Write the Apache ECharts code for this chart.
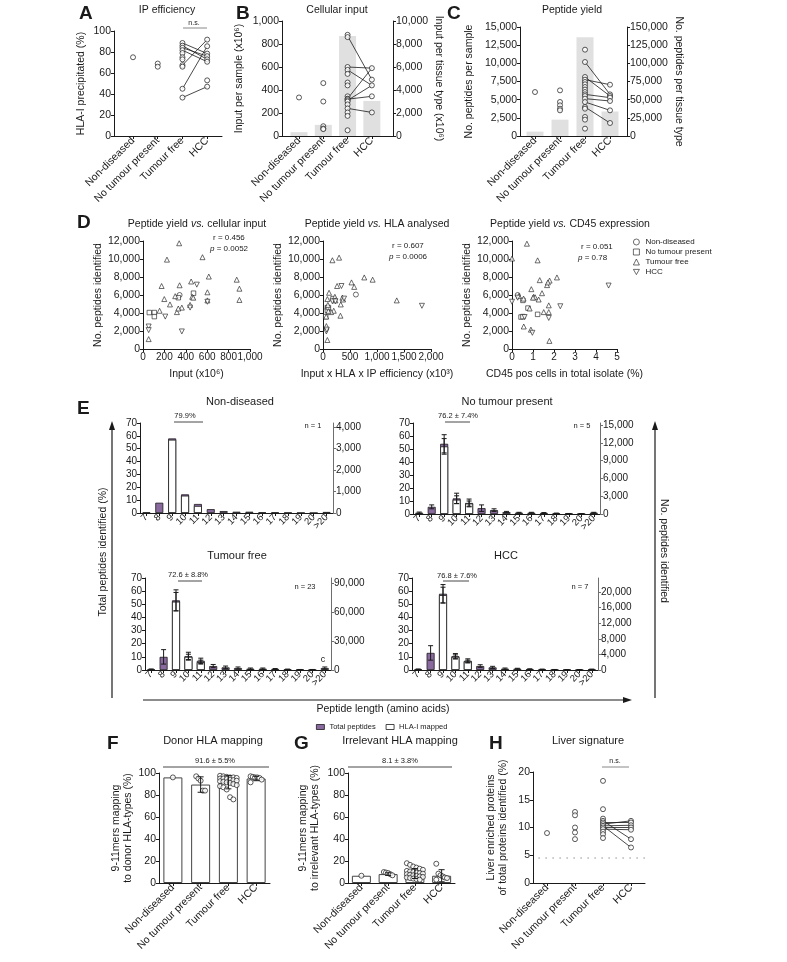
<!DOCTYPE html>
<html>
<head>
<meta charset="utf-8">
<script src="https://cdn.jsdelivr.net/npm/echarts@6/dist/echarts.min.js"></script>
<style>
  html, body { margin: 0; padding: 0; background: #fff; }
  #chart { width: 787px; height: 962px; }
</style>
</head>
<body>
<div id="chart"></div>
<script>
// ---------------- data ----------------
const groups = ['Non-diseased', 'No tumour present', 'Tumour free', 'HCC'];

// A - IP efficiency (%)
const ipND = [75];
const ipNTP = [69, 66];
const ipTF = [88.6, 86, 84, 81.7, 79, 75, 73, 67.5, 66, 45, 36.6];
const ipHCC = [91.8, 85.5, 78.5, 76, 73, 70.7, 53, 47];
const ipPairs = [[36.6, 47], [45, 85.5], [67.5, 91.8], [88.6, 78.5], [86, 73], [84, 76], [81.7, 70.7]];

// B - cellular input (x10^6)
const inputND = [335];
const inputNTP = [460, 300, 85, 65, 60];
const inputTF = [880, 860, 600, 575, 540, 465, 440, 345, 325, 320, 310, 300, 275, 240, 205, 175, 50];
const inputHCC = [590, 490, 440, 345, 205];
const inputTotals = [335, 970, 8700, 3050];
const inputPairs = [[870, 490], [600, 590], [575, 440], [325, 590], [320, 345], [310, 440], [240, 205]];

// C - peptide yield
const yieldND = [6050];
const yieldNTP = [6280, 4680, 4220, 3760, 3530];
const yieldTF = [11880, 10180, 8120, 7750, 7430, 7110, 6740, 6380, 6050, 5730, 5500, 5140, 4680, 3990, 3760, 2620, 2250, 1010];
const yieldHCC = [7060, 5730, 5500, 5280, 4820, 3530, 1790];
const yieldTotals = [6050, 22500, 136000, 33700];
const yieldPairs = [[10180, 5730], [8120, 5500], [7750, 7060], [5730, 5280], [5140, 4820], [4680, 3530], [3990, 1790]];

// D - correlations  [x, peptides]
const d1ND = [[342, 6000]];
const d1NTP = [[59, 4050], [106, 4050], [106, 3600], [472, 6200], [330, 5700]];
const d1TF = [[338, 11750], [224, 9930], [556, 10200], [174, 7000], [342, 7080], [450, 7500], [615, 8050], [876, 7700], [901, 6700], [901, 5450], [602, 6300], [199, 5550], [252, 4950], [301, 5870], [317, 4100], [363, 4600], [155, 4250], [53, 1100], [440, 4900], [460, 5800], [470, 5700], [330, 4500], [602, 5400]];
const d1HCC = [[503, 7150], [363, 1950], [208, 3600], [53, 2500], [53, 2100], [440, 4600], [602, 5250]];

const d2ND = [[609, 6050]];
const d2NTP = [[81, 4600], [81, 4300], [50, 3600], [186, 5600], [100, 4600]];
const d2TF = [[174, 9860], [298, 10150], [261, 7000], [528, 7400], [578, 6900], [764, 7950], [919, 7700], [1366, 5400], [112, 6250], [81, 5550], [360, 5700], [372, 5500], [329, 4950], [323, 3700], [199, 4250], [62, 2550], [81, 1000], [150, 4100], [100, 4200], [220, 5800], [230, 5400], [60, 3600], [90, 4900]];
const d2HCC = [[342, 7000], [1832, 4800], [174, 5300], [62, 1950], [230, 5300], [70, 2150], [390, 5600]];

const d3ND = [[0.27, 6000]];
const d3NTP = [[0.52, 5400], [0.76, 4550], [1.22, 3850], [0.43, 3550], [0.52, 3600]];
const d3TF = [[0.71, 11700], [0, 10050], [1.22, 9850], [1.79, 7600], [2.14, 7950], [1.32, 7650], [1.67, 7100], [1.71, 7400], [0.92, 6650], [1.43, 6200], [1.03, 5800], [1.1, 5750], [1.27, 5500], [1.75, 4850], [0.84, 4500], [1.51, 4100], [1.75, 4100], [0.56, 2500], [0.9, 2150], [1.78, 900], [0.55, 5600], [1.0, 5700], [0.33, 5900]];
const d3HCC = [[0, 5250], [0.27, 5700], [2.30, 4750], [4.6, 7050], [1.75, 3450], [0.97, 1800], [0.6, 3550]];

// E - peptide length distributions (%)
const lengths = ['7', '8', '9', '10', '11', '12', '13', '14', '15', '16', '17', '18', '19', '20', '>20'];
const ndTotal = [0.5, 8, 58, 14.5, 7, 3, 1.5, 1, 1, 0.5, 0.5, 0.3, 0.2, 0.1, 0.8];
const ndMapped = ['-', '-', 57, 13.5, 5.5, '-', '-', '-', '-', '-', '-', '-', '-', '-', '-'];
const ntpTotal = [1, 5.5, 54, 12, 8.5, 4.5, 3, 1.5, 1, 1, 0.8, 0.5, 0.3, 0.2, 1];
const ntpTotalSd = [0.5, 1.5, 7, 4, 3, 2.5, 1, 0.5, 0.3, 0.3, 0.3, 0.2, 0.1, 0.1, 0.3];
const ntpMapped = ['-', '-', 52, 11, 8, '-', '-', '-', '-', '-', '-', '-', '-', '-', '-'];
const ntpMappedSd = [0, 0, 6, 3, 2, 0, 0, 0, 0, 0, 0, 0, 0, 0, 0];
const tfTotal = [0.5, 10, 53, 10.5, 7, 3, 2, 1.5, 1, 1, 0.8, 0.5, 0.3, 0.3, 1.5];
const tfTotalSd = [0.3, 5.5, 8, 3, 2, 1.2, 1, 0.8, 0.5, 0.5, 0.3, 0.2, 0.1, 0.1, 0.8];
const tfMapped = ['-', '-', 52, 10, 6, '-', '-', '-', '-', '-', '-', '-', '-', '-', '-'];
const tfMappedSd = [0, 0, 7, 2, 1.5, 0, 0, 0, 0, 0, 0, 0, 0, 0, 0];
const hccTotal = [0.5, 13, 58, 10.5, 7, 3, 2, 1, 1, 0.7, 0.5, 0.3, 0.2, 0.2, 0.5];
const hccTotalSd = [0.3, 5.5, 7, 2, 1.5, 1, 0.8, 0.5, 0.3, 0.2, 0.2, 0.1, 0.1, 0.1, 0.2];
const hccMapped = ['-', '-', 57, 10, 6.5, '-', '-', '-', '-', '-', '-', '-', '-', '-', '-'];
const hccMappedSd = [0, 0, 6, 1.5, 1, 0, 0, 0, 0, 0, 0, 0, 0, 0, 0];

// F - donor HLA mapping (%)
const donorMean = [96, 89.5, 91.6, 95];
const donorSd = [0, 7, 6, 2];
const donorND = [96];
const donorNTP = [97, 95, 93, 84, 84];
const donorTF = [97.5, 97, 96.5, 96, 96, 95.5, 95, 95, 94.5, 94, 93.5, 93, 92.5, 92, 91.5, 91, 90, 89, 88, 87, 85, 78, 76];
const donorHCC = [97, 96.5, 96, 96, 95.5, 94, 91.5];

// G - irrelevant HLA mapping (%)
const irrMean = [6.6, 8.1, 8.6, 6.6];
const irrSd = [0, 1.2, 4.5, 5.5];
const irrND = [6.6];
const irrNTP = [10, 9.5, 9, 8, 7];
const irrTF = [18, 16.5, 15, 14, 13, 12, 11, 10.5, 10, 9.5, 9, 8.5, 8, 7.5, 7, 6.5, 6, 5.5, 5, 4.5, 4, 3.5, 3];
const irrHCC = [17.5, 8.5, 7, 6, 5, 4.5, 3];

// H - liver signature (%)
const livND = [9];
const livNTP = [12.8, 12.2, 10, 9.1, 7.9];
const livTF = [18.4, 13.3, 11.6, 11.2, 10.9, 10.6, 10.3, 10, 9.7, 9.25, 8.8, 8.1];
const livHCC = [11.2, 10.9, 10.4, 10, 9.6, 7.9, 6.4];
const livPairs = [[10.6, 11.2], [10.9, 10.9], [10.3, 10.4], [10, 10], [9.7, 9.6], [11.2, 7.9], [10.3, 6.4]];
const livThreshold = 4.5;

// ---------------- helpers ----------------
const INK = '#1a1a1a';
const GREY_AX = '#6e6e6e';
const PURPLE = '#8a6a9e';
const BAR_GREY = '#e0e0e0';
const FONT = '"Liberation Sans", Arial, sans-serif';
const fmt = v => Number(v).toLocaleString('en-US');

const grid = [], xAxis = [], yAxis = [], series = [], graphic = [];

function merge(a, b) {
  const out = Object.assign({}, a);
  for (const k in b) {
    const bv = b[k], av = a[k];
    if (bv && typeof bv === 'object' && !Array.isArray(bv) && av && typeof av === 'object' && !Array.isArray(av)) out[k] = merge(av, bv);
    else out[k] = bv;
  }
  return out;
}

function axis(extra) {
  return merge({
    type: 'value',
    splitLine: { show: false },
    axisLine: { show: true, onZero: false, lineStyle: { color: INK, width: 1 } },
    axisTick: { show: true, length: 3, lineStyle: { color: INK, width: 1 } },
    axisLabel: { color: INK, fontSize: 10.5, fontFamily: FONT, margin: 3, formatter: fmt, hideOverlap: false },
    nameLocation: 'middle',
    nameTextStyle: { color: INK, fontSize: 10.5, fontFamily: FONT }
  }, extra);
}

function addGrid(left, top, width, height) {
  grid.push({ left, top, width, height });
  return grid.length - 1;
}
function addX(a) { xAxis.push(a); return xAxis.length - 1; }
function addY(a) { yAxis.push(a); return yAxis.length - 1; }

function groupX(gi, min, max) {
  return addX(axis({
    gridIndex: gi, min, max, position: 'bottom',
    axisTick: { customValues: [0, 1, 2, 3] },
    axisLabel: { customValues: [0, 1, 2, 3], rotate: 45, formatter: v => groups[Math.round(v)] || '' }
  }));
}

const openDot = { color: '#fff', borderColor: INK, borderWidth: 0.9 };

function dots(xi, yi, x, vals, spread) {
  const n = vals.length;
  return {
    type: 'scatter', xAxisIndex: xi, yAxisIndex: yi, symbol: 'circle', symbolSize: 5,
    itemStyle: openDot, z: 4, silent: true,
    data: vals.map((v, i) => {
      let off = 0;
      if (spread && n > 1) {
        const k = Math.min(n, 6);
        off = ((i % k) - (k - 1) / 2) * spread;
      }
      return [x + off, v];
    })
  };
}

function pairLines(xi, yi, pairs) {
  return {
    type: 'lines', coordinateSystem: 'cartesian2d', xAxisIndex: xi, yAxisIndex: yi, z: 3, silent: true,
    lineStyle: { color: INK, width: 0.8, opacity: 1 },
    data: pairs.map(p => ({ coords: [[2, p[0]], [3, p[1]]] }))
  };
}

function errBars(xi, yi, rows, cap) {
  return {
    type: 'custom', xAxisIndex: xi, yAxisIndex: yi, z: 6, silent: true,
    data: rows.filter(r => r[2] > 0 && r[1] !== '-'),
    renderItem(params, api) {
      const x = api.value(0), m = api.value(1), s = api.value(2);
      const t = api.coord([x, m + s]), b = api.coord([x, Math.max(0, m - s)]);
      const st = { stroke: INK, lineWidth: 1 };
      return { type: 'group', children: [
        { type: 'line', shape: { x1: t[0], y1: t[1], x2: b[0], y2: b[1] }, style: st },
        { type: 'line', shape: { x1: t[0] - cap, y1: t[1], x2: t[0] + cap, y2: t[1] }, style: st },
        { type: 'line', shape: { x1: b[0] - cap, y1: b[1], x2: b[0] + cap, y2: b[1] }, style: st }
      ] };
    }
  };
}

function txt(x, y, s, size, extra) {
  graphic.push(merge({
    type: 'text', x, y, silent: true,
    style: { text: s, fontSize: size, fontFamily: FONT, fill: INK, align: 'center', verticalAlign: 'middle' }
  }, extra || {}));
}
function seg(x1, y1, x2, y2, color, w) {
  graphic.push({ type: 'line', silent: true, shape: { x1, y1, x2, y2 }, style: { stroke: color || INK, lineWidth: w || 0.8 } });
}
function letter(x, y, s) {
  txt(x, y, s, 19, { style: { fontWeight: 'bold', align: 'left' } });
}
function italicVs(x, y, a, b, size) {
  graphic.push({
    type: 'text', x, y, silent: true,
    style: {
      text: '{n|' + a + '}{i|vs.}{n|' + b + '}', align: 'center', verticalAlign: 'middle',
      rich: {
        n: { fontSize: size, fontFamily: FONT, fill: INK },
        i: { fontSize: size, fontFamily: FONT, fill: INK, fontStyle: 'italic' }
      }
    }
  });
}
function stat(x, y, r, p) {
  txt(x, y, 'r = ' + r, 8, { style: { align: 'left' } });
  graphic.push({
    type: 'text', x: x - 3, y: y + 11, silent: true,
    style: {
      text: '{i|p}{n| = ' + p + '}', align: 'left', verticalAlign: 'middle',
      rich: { n: { fontSize: 8, fontFamily: FONT, fill: INK }, i: { fontSize: 8, fontFamily: FONT, fill: INK, fontStyle: 'italic' } }
    }
  });
}

// ---------------- panel A ----------------
{
  const g = addGrid(114, 31, 108, 105);
  const xi = groupX(g, -0.77, 3.6);
  const yi = addY(axis({ gridIndex: g, min: 0, max: 100, interval: 20, name: 'HLA-I precipitated (%)', nameGap: 27 }));
  series.push(pairLines(xi, yi, ipPairs));
  series.push(dots(xi, yi, 0, ipND), dots(xi, yi, 1, ipNTP), dots(xi, yi, 2, ipTF), dots(xi, yi, 3, ipHCC));
  letter(79, 14, 'A');
  txt(167, 10, 'IP efficiency', 10.5);
  txt(194, 23, 'n.s.', 7);
  seg(183, 28, 207, 28, '#888', 1);
}

// ---------------- panel B ----------------
{
  const g = addGrid(282, 21, 111, 115);
  const xi = groupX(g, -0.7, 3.87);
  const yl = addY(axis({ gridIndex: g, min: 0, max: 1000, interval: 200, name: 'Input per sample (x10⁶)', nameGap: 37 }));
  const yr = addY(axis({ gridIndex: g, min: 0, max: 10000, interval: 2000, position: 'right', name: 'Input per tissue type (x10⁶)', nameGap: 40, nameRotate: -90 }));
  series.push({ type: 'bar', xAxisIndex: xi, yAxisIndex: yr, barWidth: 17, z: 1, silent: true, itemStyle: { color: BAR_GREY }, data: inputTotals.map((v, i) => [i, v]) });
  series.push(pairLines(xi, yl, inputPairs));
  series.push(dots(xi, yl, 0, inputND), dots(xi, yl, 1, inputNTP), dots(xi, yl, 2, inputTF), dots(xi, yl, 3, inputHCC));
  letter(236, 14, 'B');
  txt(337, 10, 'Cellular input', 10.5);
}

// ---------------- panel C ----------------
{
  const g = addGrid(520, 27, 107, 109);
  const xi = groupX(g, -0.6, 3.68);
  const yl = addY(axis({ gridIndex: g, min: 0, max: 15000, interval: 2500, name: 'No. peptides per sample', nameGap: 45 }));
  const yr = addY(axis({ gridIndex: g, min: 0, max: 150000, interval: 25000, position: 'right', name: 'No. peptides per tissue type', nameGap: 46, nameRotate: -90 }));
  series.push({ type: 'bar', xAxisIndex: xi, yAxisIndex: yr, barWidth: 17, z: 1, silent: true, itemStyle: { color: BAR_GREY }, data: yieldTotals.map((v, i) => [i, v]) });
  series.push(pairLines(xi, yl, yieldPairs));
  series.push(dots(xi, yl, 0, yieldND), dots(xi, yl, 1, yieldNTP), dots(xi, yl, 2, yieldTF), dots(xi, yl, 3, yieldHCC));
  letter(447, 14, 'C');
  txt(572, 10, 'Peptide yield', 10.5);
}

// ---------------- panel D ----------------
const downTri = 'path://M0,0L10,0L5,8.66Z';
const symbols = ['circle', 'rect', 'triangle', downTri];
function corrPanel(left, width, xmax, xint, xname, sets) {
  const g = addGrid(left, 241, width, 108);
  const xi = addX(axis({
    gridIndex: g, min: 0, max: xmax, interval: xint, name: xname, nameGap: 20,
    axisLabel: { margin: 3, fontSize: 10 }
  }));
  const yi = addY(axis({ gridIndex: g, min: 0, max: 12000, interval: 2000, name: 'No. peptides identified', nameGap: 38 }));
  sets.forEach((d, k) => series.push({
    type: 'scatter', name: groups[k], xAxisIndex: xi, yAxisIndex: yi, symbol: symbols[k],
    symbolSize: k === 1 ? 4.5 : 5, itemStyle: { color: '#fff', borderColor: INK, borderWidth: 0.8 }, silent: true, data: d
  }));
}
corrPanel(143, 107, 1000, 200, 'Input (x10⁶)', [d1ND, d1NTP, d1TF, d1HCC]);
corrPanel(323, 108, 2000, 500, 'Input x HLA x IP efficiency (x10³)', [d2ND, d2NTP, d2TF, d2HCC]);
corrPanel(512, 105, 5, 1, 'CD45 pos cells in total isolate (%)', [d3ND, d3NTP, d3TF, d3HCC]);
letter(77, 223, 'D');
italicVs(197, 224, 'Peptide yield ', ' cellular input', 10.5);
italicVs(377, 224, 'Peptide yield ', ' HLA analysed', 10.5);
italicVs(570, 224, 'Peptide yield ', ' CD45 expression', 10.5);
stat(213, 238, '0.456', '0.0052');
stat(392, 246, '0.607', '0.0006');
stat(581, 247, '0.051', '0.78');

// ---------------- panel E ----------------
function lengthPanel(left, top, width, height, rmax, rint, total, totalSd, mapped, mappedSd) {
  const g = addGrid(left, top, width, height);
  const xi = addX(axis({
    gridIndex: g, type: 'category', data: lengths, boundaryGap: true,
    axisTick: { alignWithLabel: true },
    axisLabel: { interval: 0, rotate: 45, fontSize: 9.5, formatter: v => v }
  }));
  const yl = addY(axis({ gridIndex: g, min: 0, max: 70, interval: 10, axisLabel: { fontSize: 10 } }));
  const yr = addY(axis({
    gridIndex: g, min: 0, max: rmax, interval: rint, position: 'right',
    axisLine: { lineStyle: { color: GREY_AX } }, axisTick: { lineStyle: { color: GREY_AX } },
    axisLabel: { fontSize: 10, showMaxLabel: false }
  }));
  series.push({
    type: 'bar', name: 'Total peptides', xAxisIndex: xi, yAxisIndex: yl, barWidth: 8, barGap: '-100%', silent: true,
    itemStyle: { color: PURPLE, borderColor: INK, borderWidth: 0.8 }, data: total
  });
  series.push({
    type: 'bar', name: 'HLA-I mapped', xAxisIndex: xi, yAxisIndex: yl, barWidth: 8, barGap: '-100%', silent: true,
    itemStyle: { color: '#fff', borderColor: INK, borderWidth: 0.8 }, data: mapped
  });
  if (totalSd) series.push(errBars(xi, yl, total.map((v, i) => [i, v, totalSd[i]]), 2.5));
  if (mappedSd) series.push(errBars(xi, yl, mapped.map((v, i) => [i, v, mappedSd[i]]), 2.5));
  return yr;
}
lengthPanel(140, 423, 193, 90, 4186, 1000, ndTotal, null, ndMapped, null);
lengthPanel(413, 423, 187, 91, 15337, 3000, ntpTotal, ntpTotalSd, ntpMapped, ntpMappedSd);
lengthPanel(145, 578, 186, 92, 95172, 30000, tfTotal, tfTotalSd, tfMapped, tfMappedSd);
lengthPanel(412, 578, 186, 92, 23590, 4000, hccTotal, hccTotalSd, hccMapped, hccMappedSd);
letter(77, 409, 'E');
txt(240, 402, 'Non-diseased', 11);
txt(507, 402, 'No tumour present', 11);
txt(237, 556, 'Tumour free', 11);
txt(506, 556, 'HCC', 11);
txt(185, 416, '79.9%', 7.5); seg(174, 422, 203, 422);
txt(458, 416, '76.2 ± 7.4%', 7.5); seg(445, 422, 470, 422);
txt(188, 575, '72.6 ± 8.8%', 7.5); seg(178, 581, 202, 581);
txt(457, 576, '76.8 ± 7.6%', 7.5); seg(443, 581, 469, 581);
txt(313, 426, 'n = 1', 7.5);
txt(582, 426, 'n = 5', 7.5);
txt(305, 587, 'n = 23', 7.5);
txt(580, 587, 'n = 7', 7.5);
txt(323, 660, 'c', 9);
// axis arrows
seg(112, 698, 112, 428, INK, 1.2);
graphic.push({ type: 'polygon', silent: true, shape: { points: [[112, 421], [109, 430], [115, 430]] }, style: { fill: INK } });
seg(655, 698, 655, 428, INK, 1.2);
graphic.push({ type: 'polygon', silent: true, shape: { points: [[655, 421], [652, 430], [658, 430]] }, style: { fill: INK } });
seg(143, 700, 624, 700, INK, 1.2);
graphic.push({ type: 'polygon', silent: true, shape: { points: [[632, 700], [623, 697], [623, 703]] }, style: { fill: INK } });
txt(103, 552, 'Total peptides identified (%)', 10.5, { rotation: Math.PI / 2 });
txt(664, 551, 'No. peptides identified', 10.5, { rotation: -Math.PI / 2 });
txt(383, 709, 'Peptide length (amino acids)', 10.5);

// ---------------- panels F & G ----------------
function mappingPanel(left, width, name, nameGap, mean, sd, pts) {
  const g = addGrid(left, 773, width, 110);
  const xi = groupX(g, -0.5, 3.5);
  const yi = addY(axis({ gridIndex: g, min: 0, max: 100, interval: 20, name, nameGap, nameTextStyle: { lineHeight: 12 } }));
  series.push({ type: 'bar', xAxisIndex: xi, yAxisIndex: yi, barWidth: 19, z: 2, silent: true,
    itemStyle: { color: '#fff', borderColor: '#444', borderWidth: 1 }, data: mean.map((v, i) => [i, v]) });
  series.push(errBars(xi, yi, mean.map((v, i) => [i, v, sd[i]]), 3));
  pts.forEach((p, k) => series.push(dots(xi, yi, k, p, p.length > 8 ? 0.12 : 0.08)));
}
mappingPanel(159, 111, '9-11mers mapping\nto donor HLA-types (%)', 22, donorMean, donorSd, [donorND, donorNTP, donorTF, donorHCC]);
mappingPanel(348, 107, '9-11mers mapping\nto irrelevant HLA-types (%)', 27, irrMean, irrSd, [irrND, irrNTP, irrTF, irrHCC]);
letter(107, 744, 'F');
txt(213, 741, 'Donor HLA mapping', 11);
txt(215, 761, '91.6 ± 5.5%', 7.5); seg(163, 767, 269, 767);
letter(294, 744, 'G');
txt(400, 741, 'Irrelevant HLA mapping', 11);
txt(400, 761, '8.1 ± 3.8%', 7.5); seg(348, 767, 452, 767);

// ---------------- panel H ----------------
{
  const g = addGrid(533, 772, 112, 111);
  const xi = groupX(g, -0.5, 3.5);
  const yi = addY(axis({ gridIndex: g, min: 0, max: 20, interval: 5, name: 'Liver enriched proteins\nof total proteins identified (%)', nameGap: 24, nameTextStyle: { lineHeight: 12 } }));
  series.push({
    type: 'line', xAxisIndex: xi, yAxisIndex: yi, symbol: 'none', silent: true, z: 2,
    lineStyle: { color: '#555', width: 1, type: [1, 6] },
    data: [[-0.3, livThreshold], [3.5, livThreshold]]
  });
  series.push(pairLines(xi, yi, livPairs));
  series.push(dots(xi, yi, 0, livND), dots(xi, yi, 1, livNTP), dots(xi, yi, 2, livTF), dots(xi, yi, 3, livHCC));
  letter(489, 744, 'H');
  txt(588, 741, 'Liver signature', 11);
  txt(615, 761, 'n.s.', 7);
  seg(602, 767, 629, 767, '#888', 1);
}

const chart = echarts.init(document.getElementById('chart'), null, { renderer: 'canvas' });
chart.setOption({
  animation: false,
  backgroundColor: '#fff',
  textStyle: { fontFamily: FONT },
  grid, xAxis, yAxis, series, graphic,
  legend: [
    {
      data: groups, orient: 'vertical', left: 628, top: 233, itemWidth: 6, itemHeight: 6, itemGap: 2,
      selectedMode: false, itemStyle: { borderWidth: 0.8 },
      textStyle: { fontSize: 8, fontFamily: FONT, color: INK, padding: [0, 0, 0, 1] }
    },
    {
      data: ['Total peptides', 'HLA-I mapped'], left: 311, top: 718, itemWidth: 8, itemHeight: 5, itemGap: 10,
      selectedMode: false, icon: 'rect', itemStyle: { borderWidth: 0.8 },
      textStyle: { fontSize: 7.5, fontFamily: FONT, color: INK }
    }
  ]
});
</script>
</body>
</html>
